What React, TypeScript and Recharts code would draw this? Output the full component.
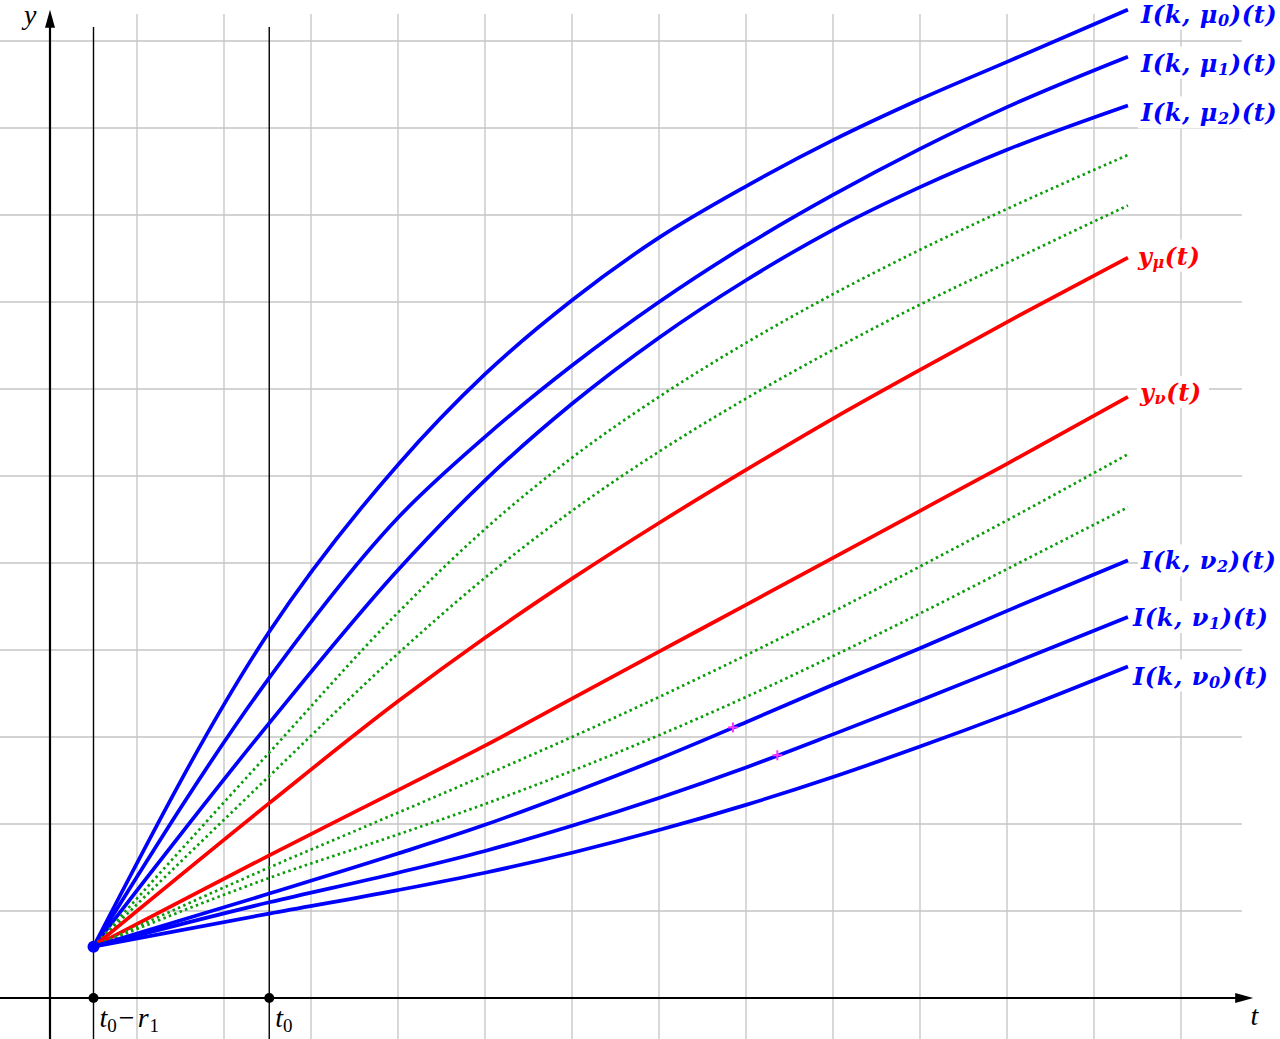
import React from "react";
import { LineChart, Line, XAxis, YAxis, ReferenceLine, ReferenceDot } from "recharts";

// sample points along t (the curves start at t0 - r1 = 0.5)
const tValues = [0.5, 2.52, 4, 5, 6, 7, 8, 9, 10, 11, 12.39];

const mu0 = [0.59, 4.21, 6.13, 7.17, 8.02, 8.74, 9.33, 9.86, 10.33, 10.76, 11.36];
const mu1 = [0.59, 3.68, 5.52, 6.45, 7.27, 8.0, 8.65, 9.23, 9.76, 10.24, 10.82];
const mu2 = [0.59, 3.16, 4.92, 5.95, 6.83, 7.59, 8.25, 8.83, 9.32, 9.75, 10.26];
const green1 = [0.59, 2.82, 4.43, 5.39, 6.21, 6.91, 7.53, 8.09, 8.6, 9.07, 9.69];
const green2 = [0.59, 2.55, 3.96, 4.83, 5.6, 6.28, 6.89, 7.45, 7.97, 8.45, 9.11];
const yMu = [0.59, 2.24, 3.41, 4.14, 4.82, 5.46, 6.07, 6.66, 7.22, 7.77, 8.51];
const yNu = [0.59, 1.64, 2.39, 2.9, 3.44, 3.98, 4.52, 5.06, 5.6, 6.14, 6.91];
const green3 = [0.59, 1.5, 2.13, 2.56, 3.0, 3.46, 3.94, 4.44, 4.96, 5.49, 6.25];
const green4 = [0.59, 1.38, 1.88, 2.23, 2.61, 3.02, 3.46, 3.93, 4.42, 4.93, 5.64];
const nu2 = [0.59, 1.2, 1.66, 1.99, 2.36, 2.75, 3.17, 3.6, 4.02, 4.45, 5.03];
const nu1 = [0.59, 1.1, 1.44, 1.69, 1.98, 2.3, 2.65, 3.03, 3.42, 3.82, 4.38];
const nu0 = [0.59, 0.97, 1.24, 1.44, 1.67, 1.93, 2.22, 2.54, 2.89, 3.26, 3.81];

// marks on I(k, nu2) and I(k, nu1)
const crossMarks = [
  { t: 7.85, y: 3.11 },
  { t: 8.36, y: 2.79 },
];

const gridT = [1, 2, 3, 4, 5, 6, 7, 8, 9, 10, 11, 12, 13];
const gridY = [1, 2, 3, 4, 5, 6, 7, 8, 9, 10, 11];
const t0 = 2.52;
const t0r1 = 0.5;

const W = 1280;
const H = 1039;
const X_MIN = -50 / 87;
const X_MAX = 1230 / 87;
const Y_MIN = -41 / 87;
const Y_MAX = 998 / 87;

const BLUE = "#0000ff";
const RED = "#ff0000";
const GREEN = "#0a9c0a";
const GRID = "#c4c4c4";

const series = [
  { key: "mu0", values: mu0, color: BLUE, dotted: false, label: ["I(k, μ", "0", ")(t)"], dx: 13, dy: 4, w: 140 },
  { key: "mu1", values: mu1, color: BLUE, dotted: false, label: ["I(k, μ", "1", ")(t)"], dx: 13, dy: 6, w: 140 },
  { key: "mu2", values: mu2, color: BLUE, dotted: false, label: ["I(k, μ", "2", ")(t)"], dx: 13, dy: 7, w: 140 },
  { key: "green1", values: green1, color: GREEN, dotted: true },
  { key: "green2", values: green2, color: GREEN, dotted: true },
  { key: "yMu", values: yMu, color: RED, dotted: false, label: ["y", "μ", "(t)"], dx: 10, dy: -2, w: 72 },
  { key: "yNu", values: yNu, color: RED, dotted: false, label: ["y", "ν", "(t)"], dx: 12, dy: -5, w: 72 },
  { key: "green3", values: green3, color: GREEN, dotted: true },
  { key: "green4", values: green4, color: GREEN, dotted: true },
  { key: "nu2", values: nu2, color: BLUE, dotted: false, label: ["I(k, ν", "2", ")(t)"], dx: 13, dy: 0, w: 140 },
  { key: "nu1", values: nu1, color: BLUE, dotted: false, label: ["I(k, ν", "1", ")(t)"], dx: 5, dy: 0, w: 140 },
  { key: "nu0", values: nu0, color: BLUE, dotted: false, label: ["I(k, ν", "0", ")(t)"], dx: 5, dy: 9, w: 140 },
];

const data = tValues.map((t, i) => {
  const row: Record<string, number> = { t };
  series.forEach((s) => (row[s.key] = s.values[i]));
  return row;
});

const mathFont = "'DejaVu Serif', serif";
const plainFont = "'Liberation Serif', serif";

function CurveLabel(props: any) {
  const { cx, cy, parts, color, dx, dy, w } = props;
  const x = cx + dx;
  const y = cy + dy;
  return (
    <g>
      <rect x={x - 3} y={y - 16} width={w} height={32} fill="#fff" />
      <text
        x={x}
        y={y}
        fill={color}
        fontFamily={mathFont}
        fontWeight="bold"
        fontStyle="italic"
        fontSize={24}
        letterSpacing={0.6}
        dominantBaseline="central"
      >
        <tspan>{parts[0]}</tspan>
        <tspan fontSize={16} dy={6}>{parts[1]}</tspan>
        <tspan dy={-6}>{parts[2]}</tspan>
      </text>
    </g>
  );
}

function ArrowUp(props: any) {
  const { cx, cy } = props;
  return <polygon points={`${cx},${cy} ${cx - 5},${cy + 18} ${cx + 5},${cy + 18}`} fill="#000" />;
}

function ArrowRight(props: any) {
  const { cx, cy } = props;
  return <polygon points={`${cx},${cy} ${cx - 18},${cy - 5} ${cx - 18},${cy + 5}`} fill="#000" />;
}

function CrossMark(props: any) {
  const { cx, cy } = props;
  return (
    <g stroke="#ff33ff" strokeWidth={2}>
      <line x1={cx - 5} y1={cy} x2={cx + 5} y2={cy} />
      <line x1={cx} y1={cy - 5} x2={cx} y2={cy + 5} />
    </g>
  );
}

function AxisText(props: any) {
  const { cx, cy, children } = props;
  return (
    <text x={cx} y={cy} fontFamily={plainFont} fontStyle="italic" fontSize={28} fill="#000">
      {children}
    </text>
  );
}

export default function App() {
  const last = tValues.length - 1;
  return (
    <div style={{ width: W, height: H }}>
      <style>{`body{margin:0}`}</style>
      <LineChart width={W} height={H} data={data} margin={{ top: 0, right: 0, bottom: 0, left: 0 }}>
        <XAxis type="number" dataKey="t" domain={[X_MIN, X_MAX]} allowDataOverflow hide />
        <YAxis type="number" domain={[Y_MIN, Y_MAX]} allowDataOverflow hide />

        {gridT.map((t) => (
          <ReferenceLine
            key={`gx${t}`}
            segment={[{ x: t, y: Y_MIN }, { x: t, y: 11.31 }]}
            stroke={GRID}
            strokeWidth={1.3}
            ifOverflow="visible"
          />
        ))}
        {gridY.map((y) => (
          <ReferenceLine
            key={`gy${y}`}
            segment={[{ x: X_MIN, y }, { x: 13.7, y }]}
            stroke={GRID}
            strokeWidth={1.3}
            ifOverflow="visible"
          />
        ))}

        {/* axes */}
        <ReferenceLine segment={[{ x: 0, y: Y_MIN }, { x: 0, y: 11.2 }]} stroke="#000" strokeWidth={2.2} ifOverflow="visible" />
        <ReferenceLine segment={[{ x: X_MIN, y: 0 }, { x: 13.7, y: 0 }]} stroke="#000" strokeWidth={2.2} ifOverflow="visible" />
        <ReferenceDot x={0} y={11.36} r={0} shape={ArrowUp} ifOverflow="visible" />
        <ReferenceDot x={13.83} y={0} r={0} shape={ArrowRight} ifOverflow="visible" />

        {/* t0 - r1 and t0 */}
        <ReferenceLine segment={[{ x: t0r1, y: Y_MIN }, { x: t0r1, y: 11.16 }]} stroke="#000" strokeWidth={1.4} ifOverflow="visible" />
        <ReferenceLine segment={[{ x: t0, y: Y_MIN }, { x: t0, y: 11.16 }]} stroke="#000" strokeWidth={1.4} ifOverflow="visible" />

        {series.map((s) => (
          <Line
            key={s.key}
            type="monotone"
            dataKey={s.key}
            stroke={s.color}
            strokeWidth={s.dotted ? 2.7 : 3.7}
            strokeDasharray={s.dotted ? "2.5 3.3" : undefined}
            dot={false}
            activeDot={false}
            isAnimationActive={false}
          />
        ))}

        {crossMarks.map((m, i) => (
          <ReferenceDot key={`cm${i}`} x={m.t} y={m.y} r={0} shape={CrossMark} />
        ))}

        <ReferenceDot x={t0r1} y={0} r={5} fill="#000" stroke="none" />
        <ReferenceDot x={t0} y={0} r={5} fill="#000" stroke="none" />
        <ReferenceDot x={t0r1} y={mu0[0]} r={6} fill={BLUE} stroke="none" />

        {series
          .filter((s) => s.label)
          .map((s) => (
            <ReferenceDot
              key={`lb${s.key}`}
              x={tValues[last]}
              y={s.values[last]}
              r={0}
              ifOverflow="visible"
              shape={(p: any) => (
                <CurveLabel cx={p.cx} cy={p.cy} parts={s.label} color={s.color} dx={s.dx} dy={s.dy} w={s.w} />
              )}
            />
          ))}

        <ReferenceDot
          x={-0.3}
          y={11.19}
          r={0}
          ifOverflow="visible"
          shape={(p: any) => <AxisText cx={p.cx} cy={p.cy}>y</AxisText>}
        />
        <ReferenceDot
          x={13.8}
          y={-0.31}
          r={0}
          ifOverflow="visible"
          shape={(p: any) => <AxisText cx={p.cx} cy={p.cy}>t</AxisText>}
        />
        <ReferenceDot
          x={t0r1 + 0.07}
          y={-0.33}
          r={0}
          ifOverflow="visible"
          shape={(p: any) => (
            <AxisText cx={p.cx} cy={p.cy}>
              <tspan>t</tspan>
              <tspan fontSize={19} dy={5} fontStyle="normal">0</tspan>
              <tspan dy={-5} dx={2} fontStyle="normal">−</tspan>
              <tspan dx={3}>r</tspan>
              <tspan fontSize={19} dy={5} dx={1} fontStyle="normal">1</tspan>
            </AxisText>
          )}
        />
        <ReferenceDot
          x={t0 + 0.07}
          y={-0.33}
          r={0}
          ifOverflow="visible"
          shape={(p: any) => (
            <AxisText cx={p.cx} cy={p.cy}>
              <tspan>t</tspan>
              <tspan fontSize={19} dy={5} fontStyle="normal">0</tspan>
            </AxisText>
          )}
        />
      </LineChart>
    </div>
  );
}
